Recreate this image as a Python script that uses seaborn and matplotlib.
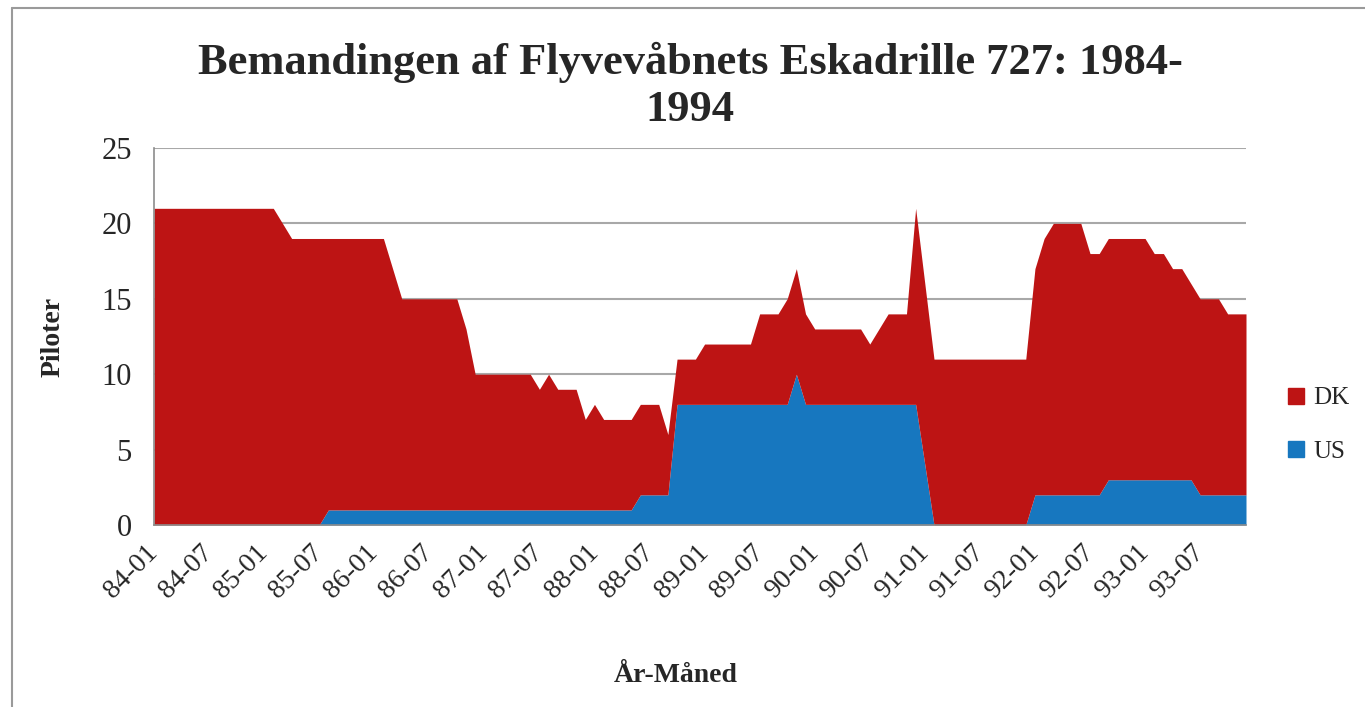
"""
Stacked area chart: pilot manning of Eskadrille 727, 1984-1994 (DK / US).
"""
import matplotlib
matplotlib.use("Agg")
import matplotlib.pyplot as plt
from matplotlib.lines import Line2D
import seaborn as sns


# Month categories 84-01 .. 93-12
months = [f"{yy:02d}-{mm:02d}" for yy in range(84, 94) for mm in range(1, 13)]

# Pilots per month
us = [0, 0, 0, 0, 0, 0, 0, 0, 0, 0, 0, 0, 0, 0, 0, 0, 0, 0, 0, 1,
      1, 1, 1, 1, 1, 1, 1, 1, 1, 1, 1, 1, 1, 1, 1, 1, 1, 1, 1, 1,
      1, 1, 1, 1, 1, 1, 1, 1, 1, 1, 1, 1, 1, 2, 2, 2, 2, 8, 8, 8,
      8, 8, 8, 8, 8, 8, 8, 8, 8, 8, 10, 8, 8, 8, 8, 8, 8, 8, 8, 8,
      8, 8, 8, 8, 4, 0, 0, 0, 0, 0, 0, 0, 0, 0, 0, 0, 2, 2, 2, 2,
      2, 2, 2, 2, 3, 3, 3, 3, 3, 3, 3, 3, 3, 3, 2, 2, 2, 2, 2, 2]

dk = [21, 21, 21, 21, 21, 21, 21, 21, 21, 21, 21, 21, 21, 21, 20, 19, 19, 19, 19, 18,
      18, 18, 18, 18, 18, 18, 16, 14, 14, 14, 14, 14, 14, 14, 12, 9, 9, 9, 9, 9,
      9, 9, 8, 9, 8, 8, 8, 6, 7, 6, 6, 6, 6, 6, 6, 6, 4, 3, 3, 3,
      4, 4, 4, 4, 4, 4, 6, 6, 6, 7, 7, 6, 5, 5, 5, 5, 5, 5, 4, 5,
      6, 6, 6, 13, 12, 11, 11, 11, 11, 11, 11, 11, 11, 11, 11, 11, 15, 17, 18, 18,
      18, 18, 16, 16, 16, 16, 16, 16, 16, 15, 15, 14, 14, 13, 13, 13, 13, 12, 12, 12]

series_names = ["DK", "US"]
title = "Bemandingen af Flyvevåbnets Eskadrille 727: 1984-\n1994"
x_label = "År-Måned"
y_label = "Piloter"
y_ticks = [0, 5, 10, 15, 20, 25]

RED = "#BD1414"
BLUE = "#1777BF"
GREY = "#8C8C8C"

sns.set_theme(style="white")
plt.rcParams["font.family"] = ["Liberation Serif", "DejaVu Serif"]

W, H = 1365, 707
fig = plt.figure(figsize=(W / 100, H / 100), dpi=100)
ax = fig.add_axes([154 / W, 1 - 525 / H, (1246 - 154) / W, (525 - 148) / H])

x = list(range(len(months)))
ax.stackplot(x, us, dk, colors=[BLUE, RED], linewidth=0, zorder=2)

ax.set_xlim(0, len(months) - 1)
ax.set_ylim(0, 25)
ax.set_yticks(y_ticks)
ax.set_yticklabels([str(v) for v in y_ticks], fontsize=22)
ax.yaxis.grid(True, color="#A8A8A8", linewidth=1.5)
ax.set_axisbelow(True)

ax.set_xticks(x)
ax.set_xticklabels([m if i % 6 == 0 else "" for i, m in enumerate(months)],
                   rotation=45, ha="right", va="center",
                   rotation_mode="anchor", fontsize=20)
ax.tick_params(axis="x", direction="out", length=8, width=1, color=GREY, pad=9)
ax.tick_params(axis="y", direction="out", length=8, width=1, color=GREY, pad=8)

for side in ["top", "right"]:
    ax.spines[side].set_visible(False)
for side in ["left", "bottom"]:
    ax.spines[side].set_color(GREY)
    ax.spines[side].set_linewidth(1.2)

ax.set_xlabel(x_label, fontsize=20, fontweight="bold")
ax.xaxis.set_label_coords((676 - 154) / (1246 - 154), -(663 - 525) / (525 - 148))
ax.set_ylabel(y_label, fontsize=20, fontweight="bold")
ax.yaxis.set_label_coords(-(154 - 66) / (1246 - 154), 0.5)

fig.text(690 / W, 1 - 86 / H, title, ha="center", va="center",
         fontsize=32, fontweight="bold", linespacing=1.2)

handles = [Line2D([], [], marker="s", linestyle="", color=RED, markersize=12),
           Line2D([], [], marker="s", linestyle="", color=BLUE, markersize=12)]
fig.legend(handles, series_names, loc="center left",
           bbox_to_anchor=(1283 / W, 1 - 425 / H), frameon=False,
           fontsize=18, handletextpad=0.2, labelspacing=1.25,
           borderpad=0, handlelength=1.0, borderaxespad=0)

# outer chart frame
fig.add_artist(Line2D([12 / W, 12 / W], [0, 1 - 8 / H],
                      transform=fig.transFigure, color="#9A9A9A", lw=1.5))
fig.add_artist(Line2D([12 / W, 1], [1 - 8 / H, 1 - 8 / H],
                      transform=fig.transFigure, color="#9A9A9A", lw=1.5))

fig.savefig("out.png", dpi=100)
